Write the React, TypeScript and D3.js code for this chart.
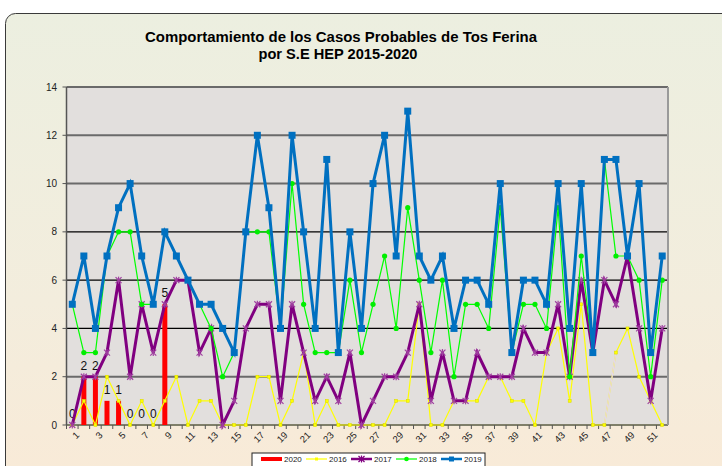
import React from "react";
import * as d3 from "d3";

const categories: number[] = d3.range(1, 53);
const yTicks: number[] = [0, 2, 4, 6, 8, 10, 12, 14];

const s2020: (number | null)[] = [0, 2, 2, 1, 1, 0, 0, 0, 5];
const s2016: number[] = [0, 1, 0, 2, 1, 0, 1, 0, 1, 2, 0, 1, 1, 0, 0, 0, 2, 2, 0, 1, 3, 0, 1, 0, 0, 0, 0, 0, 1, 1, 5, 0, 0, 1, 1, 1, 2, 2, 1, 1, 0, 3, 4, 1, 5, 0, 0, 3, 4, 2, 1, 0];
const s2017: number[] = [0, 2, 2, 3, 6, 2, 5, 3, 5, 6, 6, 3, 4, 0, 1, 4, 5, 5, 1, 5, 3, 1, 2, 1, 3, 0, 1, 2, 2, 3, 5, 1, 3, 1, 1, 3, 2, 2, 2, 4, 3, 3, 5, 2, 6, 3, 6, 5, 7, 4, 1, 4];
const s2018: number[] = [5, 3, 3, 7, 8, 8, 5, 5, 8, 7, 6, 5, 4, 2, 3, 8, 8, 8, 4, 10, 5, 3, 3, 3, 6, 3, 5, 7, 4, 9, 6, 3, 6, 2, 5, 5, 4, 9, 3, 5, 5, 4, 9, 2, 7, 3, 11, 7, 7, 6, 2, 6];
const s2019: number[] = [5, 7, 4, 7, 9, 10, 7, 5, 8, 7, 6, 5, 5, 4, 3, 8, 12, 9, 4, 12, 8, 4, 11, 3, 8, 4, 10, 12, 7, 13, 7, 6, 7, 4, 6, 6, 5, 10, 3, 6, 6, 5, 10, 4, 10, 3, 11, 11, 7, 10, 3, 7];

const legendItems = [
  { name: "2020", color: "#FF0000" },
  { name: "2016", color: "#FFFF00" },
  { name: "2017", color: "#800080" },
  { name: "2018", color: "#00FF00" },
  { name: "2019", color: "#0070C0" },
];

const W = 722;
const H = 466;
const L = 66.5;
const R = 668;
const T = 87;
const B = 425;

export default function App() {
  const x = d3.scaleBand<number>().domain(categories).range([L, R]).padding(0);
  const y = d3.scaleLinear().domain([0, 14]).range([B, T]);
  const cx = (c: number) => (x(c) as number) + x.bandwidth() / 2;
  const line = d3
    .line<number>()
    .x((_, i) => cx(categories[i]))
    .y((d) => y(d));

  const font = "Liberation Sans, Arial, sans-serif";
  const gridStyle = (v: number) => {
    if (v === 4 || v === 6 || v === 8) return { stroke: "#000", w: 1.2 };
    if (v === 0) return { stroke: "#7f7f6a", w: 2 };
    return { stroke: "#6a6a6a", w: 2 };
  };

  const star = (px: number, py: number, k: string, color: string) => (
    <g key={k} stroke={color} strokeWidth={1.2}>
      <line x1={px - 3} y1={py - 3} x2={px + 3} y2={py + 3} />
      <line x1={px - 3} y1={py + 3} x2={px + 3} y2={py - 3} />
      <line x1={px} y1={py - 3.5} x2={px} y2={py + 3.5} />
    </g>
  );

  return (
    <svg width={W} height={H} style={{ display: "block", position: "absolute", left: 0, top: 0 }} fontFamily={font}>
      <defs>
        <linearGradient id="bg" x1="0" y1="0" x2="0" y2="1">
          <stop offset="0" stopColor="#ECEFE0" />
          <stop offset="0.6" stopColor="#F3EDDD" />
          <stop offset="1" stopColor="#F9EAD7" />
        </linearGradient>
      </defs>
      <rect x={0} y={0} width={W} height={H} fill="#fff" />
      <rect x={5.5} y={13.5} width={740} height={480} rx={10} fill="url(#bg)" stroke="#3a3a3a" strokeWidth={1} />
      <text x={341} y={42} textAnchor="middle" fontSize={14} fontWeight="bold" fill="#000" textLength={392} lengthAdjust="spacingAndGlyphs">
        Comportamiento de los Casos Probables de Tos Ferina
      </text>
      <text x={338} y={59} textAnchor="middle" fontSize={14} fontWeight="bold" fill="#000" textLength={159} lengthAdjust="spacingAndGlyphs">
        por S.E HEP 2015-2020
      </text>

      <rect x={L} y={T} width={R - L} height={B - T} fill="#E2DFDD" />
      {yTicks.map((v) => {
        const g = gridStyle(v);
        return <line key={"g" + v} x1={L} x2={R} y1={y(v)} y2={y(v)} stroke={g.stroke} strokeWidth={g.w} />;
      })}
      <line x1={R} x2={R} y1={T} y2={B} stroke="#9a9a9a" strokeWidth={2} />
      <line x1={L} x2={L} y1={T} y2={B} stroke="#555" strokeWidth={1.5} />
      {yTicks.map((v) => (
        <g key={"yt" + v}>
          <line x1={L - 4} x2={L} y1={y(v)} y2={y(v)} stroke="#555" />
          <text x={57} y={y(v) + 3.5} textAnchor="end" fontSize={10} fill="#222">
            {v}
          </text>
        </g>
      ))}
      {categories.map((c) => (
        <line key={"xt" + c} x1={x(c) as number} x2={x(c) as number} y1={B} y2={B + 4} stroke="#555" />
      ))}
      {categories
        .filter((c) => c % 2 === 1)
        .map((c) => (
          <text key={"xl" + c} transform={`translate(${cx(c) + 3},${B + 6}) rotate(-45)`} textAnchor="end" dy="0.7em" fontSize={9.5} fill="#222">
            {c}
          </text>
        ))}

      {s2020.map((v, i) =>
        v === null ? null : (
          <g key={"b" + i}>
            <rect x={cx(categories[i]) - 2.5} y={y(v)} width={5} height={B - y(v)} fill="#FF0000" />
            <text x={cx(categories[i])} y={y(v) - 7} textAnchor="middle" fontSize={12} fill="#111">
              {v}
            </text>
          </g>
        )
      )}

      <path d={line(s2016) || ""} fill="none" stroke="#FFFF00" strokeWidth={1.2} />
      <line x1={cx(47)} y1={y(s2016[46])} x2={cx(48)} y2={y(s2016[47])} stroke="#E6D6EA" strokeWidth={1.2} />
      {s2016.map((v, i) => (
        <rect key={"m16" + i} x={cx(categories[i]) - 1.5} y={y(v) - 1.5} width={3} height={3} fill="#FFFF00" stroke="#d8d800" strokeWidth={0.5} />
      ))}

      <path d={line(s2017) || ""} fill="none" stroke="#800080" strokeWidth={3} />
      {s2017.map((v, i) => star(cx(categories[i]), y(v), "m17" + i, "#a040a0"))}

      <path d={line(s2018) || ""} fill="none" stroke="#00FF00" strokeWidth={1.2} />
      {s2018.map((v, i) => (
        <circle key={"m18" + i} cx={cx(categories[i])} cy={y(v)} r={2.6} fill="#00EE00" />
      ))}

      <path d={line(s2019) || ""} fill="none" stroke="#0070C0" strokeWidth={3} />
      {s2019.map((v, i) => (
        <rect key={"m19" + i} x={cx(categories[i]) - 3.5} y={y(v) - 3.5} width={7} height={7} fill="#0070C0" />
      ))}

      <rect x={252} y={453} width={233} height={20} fill="#fff" stroke="#222" strokeWidth={1} />
      {legendItems.map((it, i) => {
        const lx = 261 + i * 45;
        const mid = lx + 10.5;
        return (
          <g key={"lg" + it.name}>
            {it.name === "2020" ? (
              <rect x={lx} y={457} width={21} height={4} fill={it.color} />
            ) : (
              <line x1={lx} x2={lx + 21} y1={459} y2={459} stroke={it.color} strokeWidth={it.name === "2017" || it.name === "2019" ? 2.5 : 1.2} />
            )}
            {it.name === "2016" && <rect x={mid - 1.5} y={457.5} width={3} height={3} fill={it.color} />}
            {it.name === "2017" && star(mid, 459, "ls", "#800080")}
            {it.name === "2018" && <circle cx={mid} cy={459} r={2.3} fill={it.color} />}
            {it.name === "2019" && <rect x={mid - 2.5} y={456.5} width={5} height={5} fill={it.color} />}
            <text x={lx + 23} y={462} fontSize={8} fill="#222">
              {it.name}
            </text>
          </g>
        );
      })}
    </svg>
  );
}
